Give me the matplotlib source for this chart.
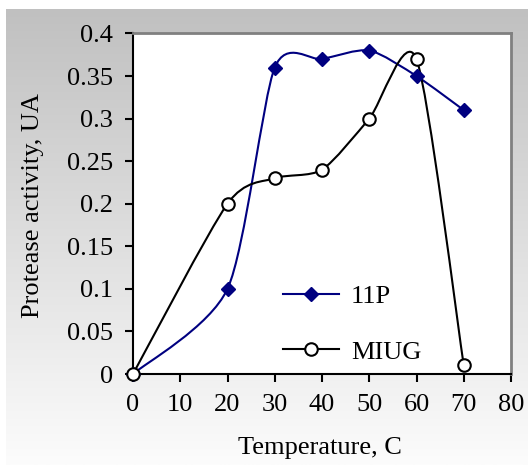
import matplotlib
matplotlib.use("Agg")
import matplotlib.pyplot as plt
import numpy as np
from matplotlib.lines import Line2D
from matplotlib.patches import PathPatch
from matplotlib.path import Path

plt.rcParams["font.family"] = ["Liberation Serif", "DejaVu Serif"]
plt.rcParams["font.size"] = 19

temperature = [0, 20, 30, 40, 50, 60, 70]
activity_11p = [0, 0.1, 0.36, 0.37, 0.38, 0.35, 0.31]
activity_miug = [0, 0.2, 0.23, 0.24, 0.30, 0.37, 0.01]
x_ticks = [0, 10, 20, 30, 40, 50, 60, 70, 80]
y_ticks = [0, 0.05, 0.1, 0.15, 0.2, 0.25, 0.3, 0.35, 0.4]
y_tick_labels = ["0", "0.05", "0.1", "0.15", "0.2", "0.25", "0.3", "0.35", "0.4"]

NAVY = "#000080"
W, H = 528, 465
TENSION = 1 / 8.0


def smooth_path(xs, ys):
    # spreadsheet-style smoothed line: cubic bezier with catmull-rom like tangents
    pts = np.column_stack([xs, ys]).astype(float)
    n = len(pts)
    verts = [pts[0]]
    codes = [Path.MOVETO]
    for i in range(n - 1):
        p0 = pts[max(i - 1, 0)]
        p1 = pts[i]
        p2 = pts[i + 1]
        p3 = pts[min(i + 2, n - 1)]
        c1 = p1 + (p2 - p0) * TENSION
        c2 = p2 - (p3 - p1) * TENSION
        verts += [c1, c2, p2]
        codes += [Path.CURVE4] * 3
    return Path(verts, codes)


fig = plt.figure(figsize=(W / 100, H / 100), dpi=100)
fig.patch.set_facecolor("white")

# gradient backdrop of the chart area
bg = fig.add_axes([6 / W, 0, 1 - 6 / W, (H - 9) / H])
grad = np.linspace(192, 252, 256)[:, None] / 255.0
bg.imshow(np.repeat(grad[:, :, None], 3, axis=2), aspect="auto", extent=(0, 1, 0, 1))
bg.set_axis_off()

left, right = 133, 511
top, bottom = 33.5, 374
ax = fig.add_axes([left / W, 1 - bottom / H, (right - left) / W, (bottom - top) / H])
ax.set_facecolor("white")

for ys, color in [(activity_11p, NAVY), (activity_miug, "black")]:
    ax.add_patch(PathPatch(smooth_path(temperature, ys), facecolor="none",
                           edgecolor=color, lw=1.5, zorder=2))

ax.plot(temperature, activity_11p, linestyle="none", marker="D", ms=7,
        color=NAVY, zorder=3, clip_on=False)
ax.plot(temperature, activity_miug, linestyle="none", marker="o", ms=9,
        mfc="white", mec="black", mew=1.5, zorder=4, clip_on=False)

ax.set_xlim(0, 80)
ax.set_ylim(0, 0.4)
ax.set_xticks(x_ticks)
ax.set_xticklabels([str(t) for t in x_ticks])
ax.set_yticks(y_ticks)
ax.set_yticklabels(y_tick_labels)
ax.tick_params(axis="both", direction="out", length=6, width=1.5, colors="black")
ax.tick_params(axis="y", pad=8.5)
ax.tick_params(axis="x", pad=8.5)

for side in ["left", "bottom"]:
    ax.spines[side].set_linewidth(1.5)
    ax.spines[side].set_color("black")
for side in ["top", "right"]:
    ax.spines[side].set_linewidth(2)
    ax.spines[side].set_color("#808080")

ax.set_xlabel("Temperature, C")
ax.set_ylabel("Protease activity, UA")
ax.xaxis.set_label_coords(0.495, -0.185)
ax.yaxis.set_label_coords(-0.235, 0.496)

handles = [
    Line2D([], [], color=NAVY, lw=1.5, marker="D", ms=7),
    Line2D([], [], color="black", lw=1.5, marker="o", ms=9, mfc="white", mec="black", mew=1.5),
]
fig.legend(handles, ["11P", "MIUG"], loc="upper left", bbox_to_anchor=(283 / W, 1 - 285 / H),
           frameon=False, handlelength=2.12, handletextpad=0.45, labelspacing=1.2,
           borderpad=0, borderaxespad=0)

fig.savefig("out.png", dpi=100, facecolor=fig.get_facecolor())
